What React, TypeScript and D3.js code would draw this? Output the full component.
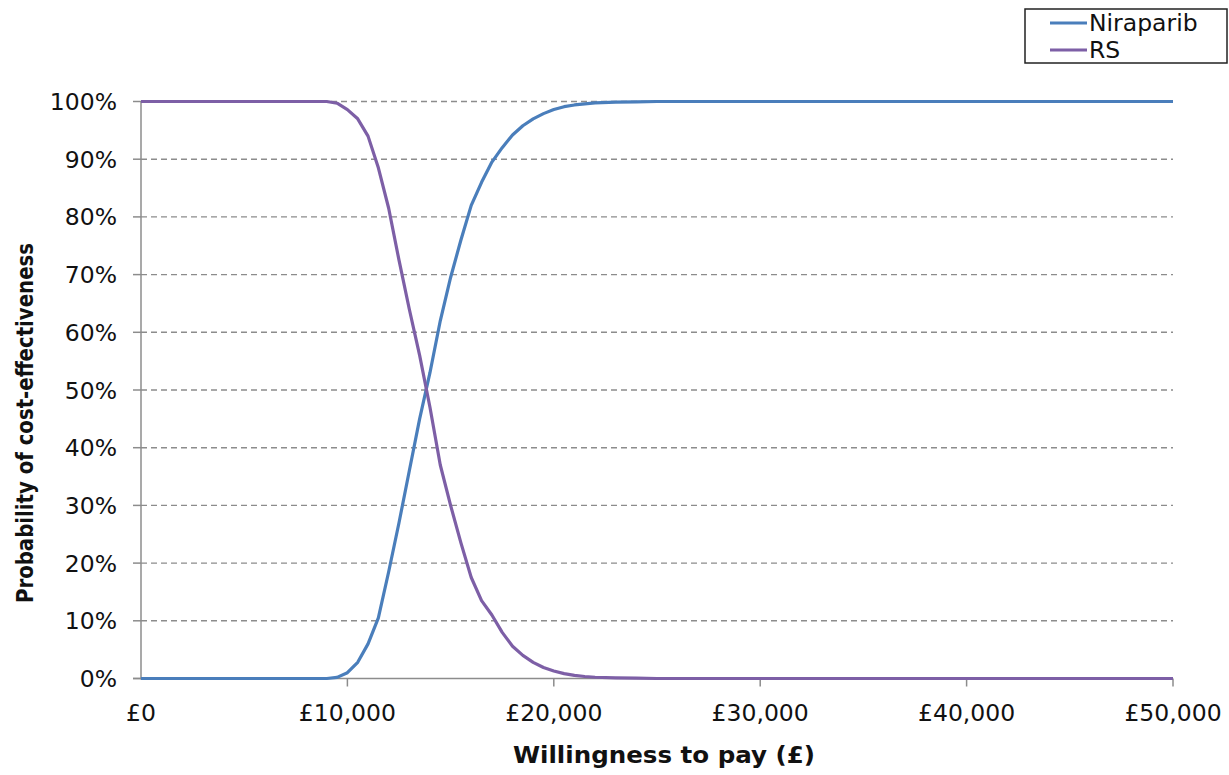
import React from "react";
import * as d3 from "d3";

const wtp = [0, 9000, 9500, 10000, 10500, 11000, 11500, 12000, 12500, 13000, 13500, 14000, 14500, 15000, 15500, 16000, 16500, 17000, 17500, 18000, 18500, 19000, 19500, 20000, 20500, 21000, 21500, 22000, 23000, 24000, 25000, 30000, 40000, 50000];
const niraparib = [0, 0, 0.2, 1.0, 2.8, 6, 10.5, 18.5, 27, 36, 45, 53, 62, 69.5, 76, 82, 86, 89.5, 92, 94.2, 95.8, 97, 97.9, 98.6, 99.1, 99.4, 99.6, 99.75, 99.9, 99.95, 100, 100, 100, 100];
const rs = [100, 100, 99.7, 98.6, 97, 94, 88.5, 81.5, 72.5, 64, 56, 47, 37, 30, 23.5, 17.5, 13.5, 11, 8, 5.6, 4, 2.8, 1.9, 1.3, 0.85, 0.55, 0.35, 0.22, 0.1, 0.05, 0, 0, 0, 0];
const xTicks = [0, 10000, 20000, 30000, 40000, 50000];
const yTicks = [0, 10, 20, 30, 40, 50, 60, 70, 80, 90, 100];
const seriesNames = ["Niraparib", "RS"];
const seriesColors = ["#4a7ebb", "#7d5fa6"];

const W = 1229, H = 775;
const left = 141, right = 1173, top = 101.5, bottom = 678.5;
const font = "'DejaVu Sans', Verdana, sans-serif";

export default function App() {
  const x = d3.scaleLinear().domain([0, 50000]).range([left, right]);
  const y = d3.scaleLinear().domain([0, 100]).range([bottom, top]);
  const line = d3.line<number>().x((_, i) => x(wtp[i])).y((d) => y(d));
  const series = [niraparib, rs];
  const fmtX = (v: number) => "£" + d3.format(",")(v);
  return (
    <svg width={W} height={H} style={{ position: "absolute", left: 0, top: 0, background: "#fff" }}>
      {yTicks.filter((t) => t > 0).map((t) => (
        <line key={t} x1={left} x2={right} y1={y(t)} y2={y(t)} stroke="#8c8c8c" strokeWidth={1.4} strokeDasharray="6,4" />
      ))}
      <line x1={left} x2={left} y1={top} y2={bottom + 1} stroke="#8c8c8c" strokeWidth={1.5} />
      <line x1={left - 8} x2={right} y1={bottom} y2={bottom} stroke="#8c8c8c" strokeWidth={1.5} />
      {yTicks.map((t) => (
        <g key={t}>
          <line x1={left - 8} x2={left} y1={y(t)} y2={y(t)} stroke="#8c8c8c" strokeWidth={1.5} />
          <text x={117} y={y(t) + 8.5} textAnchor="end" fontFamily={font} fontSize={23.5} fill="#111">{t}%</text>
        </g>
      ))}
      {xTicks.map((t) => (
        <g key={t}>
          {t > 0 && <line x1={x(t)} x2={x(t)} y1={bottom} y2={bottom + 8} stroke="#8c8c8c" strokeWidth={1.5} />}
          <text x={x(t)} y={721} textAnchor="middle" fontFamily={font} fontSize={23.5} fill="#111">{fmtX(t)}</text>
        </g>
      ))}
      {series.map((s, i) => (
        <path key={i} d={line(s) || ""} fill="none" stroke={seriesColors[i]} strokeWidth={3.2} strokeLinejoin="round" />
      ))}
      <text x={664} y={763} textAnchor="middle" fontFamily={font} fontSize={23.5} fontWeight="bold" fill="#111" textLength={302} lengthAdjust="spacingAndGlyphs">Willingness to pay (£)</text>
      <text transform={`translate(33, 423) rotate(-90)`} textAnchor="middle" fontFamily={font} fontSize={23} fontWeight="bold" fill="#111" textLength={360} lengthAdjust="spacingAndGlyphs">Probability of cost-effectiveness</text>
      <rect x={1025} y={9} width={202} height={54} fill="#fff" stroke="#222" strokeWidth={1.5} />
      {seriesNames.map((n, i) => (
        <g key={n}>
          <line x1={1050} x2={1087} y1={23 + i * 27} y2={23 + i * 27} stroke={seriesColors[i]} strokeWidth={3.2} />
          <text x={1089} y={31 + i * 27} fontFamily={font} fontSize={23.5} fill="#111">{n}</text>
        </g>
      ))}
    </svg>
  );
}
